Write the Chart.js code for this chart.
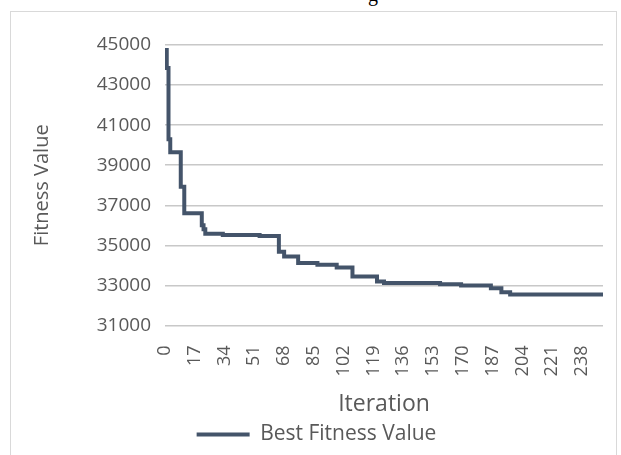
<!DOCTYPE html>
<html lang="en">
<head>
<meta charset="UTF-8" />
<title>Best Fitness Value per Iteration</title>
<style>
  body {
    margin: 0;
    width: 621px;
    height: 455px;
    overflow: hidden;
    background: #fff;
    position: relative;
  }
  .frame {
    position: absolute;
    left: 10px;
    top: 11px;
    width: 605px;
    height: 470px;
    border: 1.5px solid #d9d9d9;
  }
  .caption {
    position: absolute;
    left: 368px;
    top: -16px;
    font-family: "Liberation Serif", serif;
    font-size: 20px;
    line-height: 20px;
    color: #000;
  }
  .wrap {
    position: absolute;
    left: 0;
    top: 0;
    width: 621px;
    height: 455px;
  }
</style>
</head>
<body>
<div class="caption">g</div>
<div class="frame"></div>
<div class="wrap"><canvas id="chart"></canvas></div>

<script src="https://cdn.jsdelivr.net/npm/chart.js"></script>
<script>
  // iterations where the best fitness changed, and the value from then on
  const iterations  = [0, 1, 2, 3, 9, 11, 21, 22, 23, 33, 54, 65, 68, 76, 87, 98, 107, 121, 125, 157, 169, 186, 192, 197, 250];
  const bestFitness = [44750, 43850, 40300, 39650, 37920, 36600, 36000, 35800, 35580, 35520, 35470, 34680, 34450, 34120, 34030, 33900, 33450, 33200, 33120, 33060, 33000, 32860, 32660, 32550, 32550];

  const xMin = 0, xMax = 250, xStep = 17;
  const yMin = 31000, yMax = 45000, yStep = 2000;

  const fontFamily = '"Open Sans", "Noto Sans", sans-serif';
  const grey = '#595959';

  const points = iterations.map((it, i) => ({ x: it, y: bestFitness[i] }));

  new Chart(document.getElementById('chart'), {
    type: 'line',
    data: {
      datasets: [{
        label: 'Best Fitness Value',
        data: points,
        borderColor: '#44546a',
        backgroundColor: '#44546a',
        borderWidth: 4,
        pointRadius: 0,
        stepped: true,
        fill: false
      }]
    },
    options: {
      responsive: true,
      maintainAspectRatio: false,
      animation: false,
      layout: { padding: { left: 30, right: 18, top: 45, bottom: 0 } },
      plugins: {
        legend: {
          position: 'bottom',
          labels: {
            usePointStyle: true,
            pointStyle: 'line',
            pointStyleWidth: 53,
            color: grey,
            font: { family: fontFamily, size: 21 },
            padding: 6
          }
        },
        tooltip: { enabled: false }
      },
      scales: {
        x: {
          type: 'linear',
          min: xMin,
          max: xMax,
          grid: { display: false },
          border: { display: false },
          ticks: {
            stepSize: xStep,
            includeBounds: false,
            minRotation: 90,
            maxRotation: 90,
            color: grey,
            padding: 12,
            font: { family: fontFamily, size: 18 }
          },
          title: {
            display: true,
            text: 'Iteration',
            color: grey,
            padding: { top: 2, bottom: 0 },
            font: { family: fontFamily, size: 23 }
          }
        },
        y: {
          min: yMin,
          max: yMax,
          afterFit: (scale) => { scale.width = 135; },
          grid: { color: '#c8c8c8', lineWidth: 1.5, drawTicks: false },
          border: { display: false },
          ticks: {
            stepSize: yStep,
            color: grey,
            padding: 14,
            font: { family: fontFamily, size: 19 },
            callback: (v) => String(v)
          },
          title: {
            display: true,
            text: 'Fitness Value',
            color: grey,
            padding: { top: 0, bottom: 14 },
            font: { family: fontFamily, size: 20 }
          }
        }
      }
    }
  });
</script>
</body>
</html>
